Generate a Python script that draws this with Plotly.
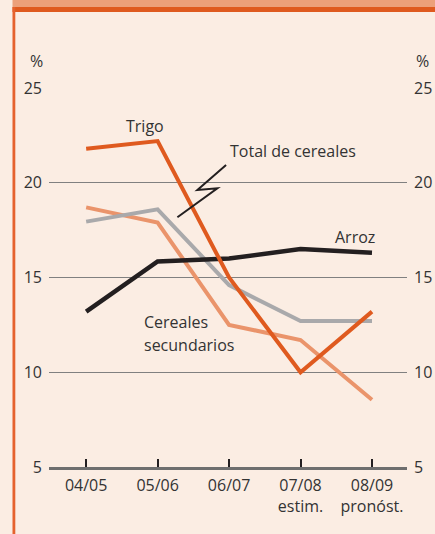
import plotly.graph_objects as go

# ---- data ----
years = ["04/05", "05/06", "06/07", "07/08", "08/09"]
year_sublabels = ["", "", "", "estim.", "pronóst."]
trigo = [21.8, 22.2, 15.0, 10.0, 13.2]
total_cereales = [17.95, 18.6, 14.6, 12.7, 12.7]
arroz = [13.2, 15.85, 16.0, 16.5, 16.3]
cereales_secundarios = [18.7, 17.9, 12.5, 11.7, 8.55]
y_ticks = [5, 10, 15, 20, 25]

# ---- layout constants ----
W, H = 435, 534
ML, MR, MT, MB = 49, 28, 88, 67
BG = "#fbede3"
FONT = "Open Sans"
TXT = "#333333"
PW = W - ML - MR
PH = H - MT - MB


def px_x(p):
    return (p - ML) / PW


def px_y(p):
    return (H - MB - p) / PH


fig = go.Figure()
xs = list(range(len(years)))
tick_text = [y + ("<br>" + s if s else "") for y, s in zip(years, year_sublabels)]

series = [
    (cereales_secundarios, "#ea946b", 4),
    (total_cereales, "#a9a9ab", 4),
    (arroz, "#231f20", 4.5),
    (trigo, "#df5a1f", 4),
]
for vals, col, w in series:
    fig.add_trace(go.Scatter(x=xs, y=vals, mode="lines",
                             line=dict(color=col, width=w),
                             showlegend=False, hoverinfo="skip"))

# dummy trace for right axis
fig.add_trace(go.Scatter(x=[xs[0]], y=[y_ticks[0]], yaxis="y2", mode="markers",
                         marker=dict(opacity=0), showlegend=False, hoverinfo="skip"))

fig.update_layout(
    width=W, height=H,
    margin=dict(l=ML, r=MR, t=MT, b=MB, autoexpand=False),
    paper_bgcolor=BG, plot_bgcolor=BG,
    font=dict(family=FONT, size=16, color=TXT),
    xaxis=dict(range=[-0.52, 4.49], tickvals=xs, ticktext=tick_text,
               showgrid=False, zeroline=False,
               showline=True, linecolor="#6e6e6e", linewidth=3,
               ticks="inside", ticklen=8, tickwidth=2, tickcolor="#231f20",
               tickfont=dict(size=16, color=TXT), ticklabelstandoff=2),
    yaxis=dict(range=[5, 25], tickvals=y_ticks, showgrid=True,
               gridcolor="#808080", gridwidth=1, zeroline=False,
               showline=False, ticks="", ticklabelstandoff=6,
               tickfont=dict(size=16, color=TXT)),
    yaxis2=dict(range=[5, 25], tickvals=y_ticks, overlaying="y", side="right",
                showgrid=False, zeroline=False, showline=False, ticks="",
                ticklabelstandoff=6, tickfont=dict(size=16, color=TXT)),
)

# "%" labels
for px in (36, 422):
    fig.add_annotation(x=px_x(px), y=px_y(61), xref="paper", yref="paper", text="%",
                       showarrow=False, xanchor="center", yanchor="middle",
                       font=dict(size=16, color=TXT))


# series labels
def dx(p):
    return (p - 86) / 71.5


def dy(p):
    return 25 - (p - 87.7) / 19


fig.add_annotation(x=dx(145), y=dy(126), text="Trigo", showarrow=False,
                   xanchor="center", yanchor="middle")
fig.add_annotation(x=dx(228), y=dy(151), text="Total de cereales", showarrow=False,
                   xanchor="left", yanchor="middle")
fig.add_annotation(x=dx(355), y=dy(237), text="Arroz", showarrow=False,
                   xanchor="center", yanchor="middle")
fig.add_annotation(x=dx(142), y=dy(322), text="Cereales", showarrow=False,
                   xanchor="left", yanchor="middle")
fig.add_annotation(x=dx(142), y=dy(345), text="secundarios", showarrow=False,
                   xanchor="left", yanchor="middle")

# zigzag leader
zz = [(226, 165), (197.3, 190), (217.3, 188.3), (177.3, 217.3)]
path = "M " + " L ".join(f"{dx(a):.4f},{dy(b):.4f}" for a, b in zz)
fig.add_shape(type="path", path=path, xref="x", yref="y",
              line=dict(color="#231f20", width=2))

# frame: top band and left border
fig.add_shape(type="rect", xref="paper", yref="paper",
              x0=px_x(12.5), x1=px_x(W + 5), y0=px_y(7), y1=px_y(-2),
              fillcolor="#eca07a", line=dict(width=0), layer="above")
fig.add_shape(type="rect", xref="paper", yref="paper",
              x0=px_x(12.5), x1=px_x(W + 5), y0=px_y(12), y1=px_y(7),
              fillcolor="#df5a1f", line=dict(width=0), layer="above")
fig.add_shape(type="rect", xref="paper", yref="paper",
              x0=px_x(12.5), x1=px_x(15.3), y0=px_y(H + 5), y1=px_y(7),
              fillcolor="#e5622e", line=dict(width=0), layer="above")

fig.write_html("out.html", config={"displayModeBar": False},
               post_script="document.body.style.margin='0';"
                           "document.body.style.overflow='hidden';")
